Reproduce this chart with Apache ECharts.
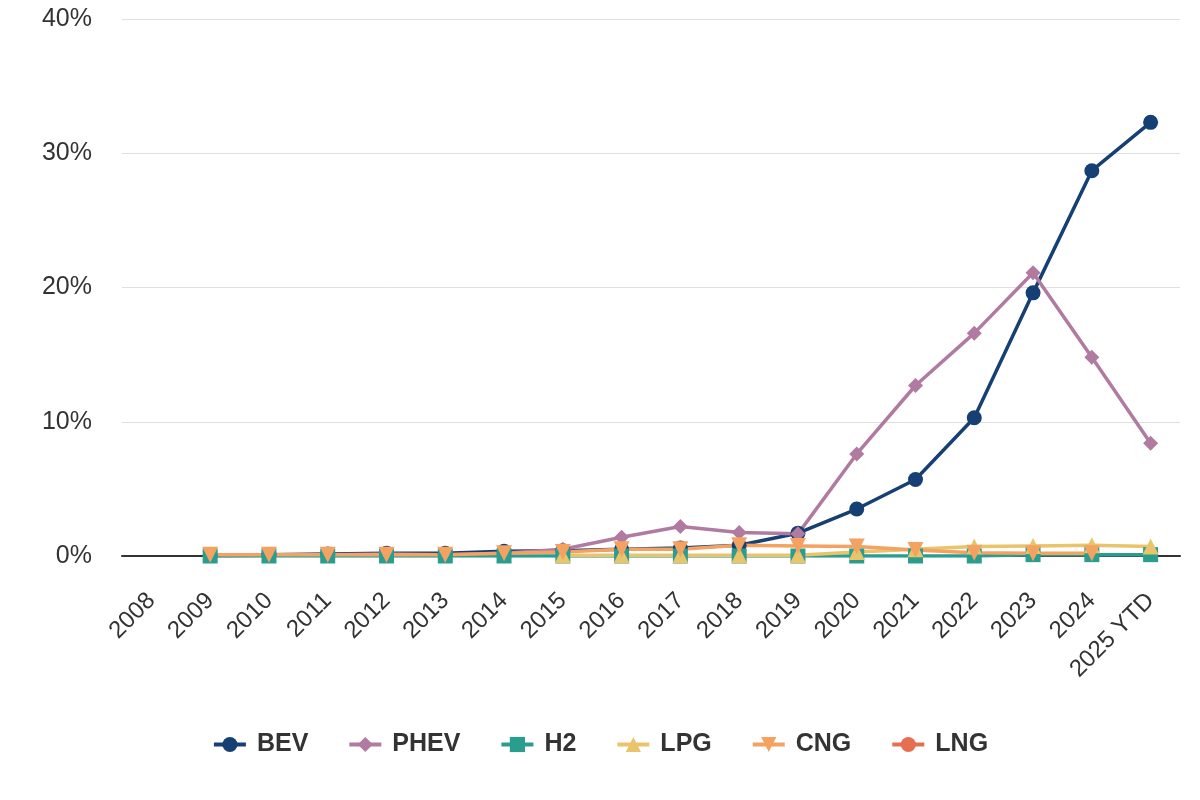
<!DOCTYPE html>
<html>
<head>
<meta charset="utf-8">
<title>Vehicle share by fuel type</title>
<script src="https://cdn.jsdelivr.net/npm/echarts@6/dist/echarts.min.js"></script>
<style>
    html, body { margin: 0; padding: 0; background: #fff; }
    #container { width: 1200px; height: 800px; }
</style>
</head>
<body>
<div id="container"></div>
<script>
// categories
var years = ['2008', '2009', '2010', '2011', '2012', '2013', '2014', '2015', '2016',
    '2017', '2018', '2019', '2020', '2021', '2022', '2023', '2024', '2025 YTD'];

// share of new registrations, %
var bev  = [null, 0.05, 0.1, 0.15, 0.2, 0.2, 0.35, 0.4, 0.5, 0.6, 0.8, 1.7, 3.5, 5.7, 10.3, 19.6, 28.7, 32.3];
var phev = [null, 0.0, 0.05, 0.1, 0.15, 0.1, 0.2, 0.5, 1.4, 2.2, 1.75, 1.65, 7.6, 12.7, 16.6, 21.1, 14.8, 8.4];
var h2   = [null, 0, 0, 0, 0, 0, 0, 0, 0, 0, 0, 0, 0, 0, 0, 0.1, 0.1, 0.1];
var lpg  = [null, null, null, null, null, null, null, 0.05, 0.05, 0.05, 0.05, 0.05, 0.3, 0.5, 0.7, 0.75, 0.8, 0.7];
var cng  = [null, 0.1, 0.1, 0.1, 0.1, 0.1, 0.2, 0.3, 0.5, 0.5, 0.8, 0.75, 0.7, 0.45, 0.25, 0.2, 0.2, null];
var lng  = [null, null, null, null, null, null, null, null, null, null, null, null, null, null, null, null, null, null];

var yTicks = [0, 10, 20, 30, 40];

var dom = document.getElementById('container');
var myChart = echarts.init(dom);

var mkSeries = function (name, data, symbol, size, color) {
    return {
        name: name,
        type: 'line',
        data: data,
        symbol: symbol,
        symbolSize: size,
        showAllSymbol: true,
        connectNulls: false,
        lineStyle: { width: 3.5, color: color },
        itemStyle: { color: color },
        emphasis: { disabled: true }
    };
};

var option = {
    animation: false,
    textStyle: { fontFamily: 'Liberation Sans, Arial, sans-serif' },
    color: ['#163f74', '#b07aa1', '#2a9d8f', '#e9c46a', '#f4a261', '#e76f51'],
    grid: {
        left: 122,
        right: 20,
        top: 19,
        bottom: 244
    },
    legend: {
        top: 727,
        left: 'center',
        itemWidth: 32,
        itemHeight: 19,
        itemGap: 39,
        lineStyle: { width: 4 },
        textStyle: {
            fontSize: 25,
            fontWeight: 'bold',
            color: '#333',
            padding: [0, 0, 0, 6]
        },
        data: ['BEV', 'PHEV', 'H2', 'LPG', 'CNG', 'LNG']
    },
    xAxis: {
        type: 'category',
        boundaryGap: true,
        data: years,
        axisLine: { lineStyle: { color: '#333', width: 2 } },
        axisTick: { show: false },
        axisLabel: {
            interval: 0,
            rotate: 45,
            fontSize: 24,
            color: '#333',
            margin: 41
        }
    },
    yAxis: {
        type: 'value',
        min: yTicks[0],
        max: yTicks[yTicks.length - 1],
        interval: 10,
        axisLine: { show: false },
        axisTick: { show: false },
        axisLabel: {
            fontSize: 25,
            color: '#333',
            margin: 30,
            padding: [6, 0, 0, 0],
            formatter: '{value}%'
        },
        splitLine: { lineStyle: { color: '#e0e0e0', width: 1 } }
    },
    series: [
        mkSeries('BEV', bev, 'circle', 15, '#163f74'),
        mkSeries('PHEV', phev, 'diamond', 15, '#b07aa1'),
        mkSeries('H2', h2, 'rect', 15, '#2a9d8f'),
        mkSeries('LPG', lpg, 'triangle', 16, '#e9c46a'),
        mkSeries('CNG', cng, 'path://M0,0 L10,0 L5,10 Z', 16, '#f4a261'),
        mkSeries('LNG', lng, 'circle', 15, '#e76f51')
    ]
};

if (option && typeof option === 'object') {
    myChart.setOption(option);
}
</script>
</body>
</html>
